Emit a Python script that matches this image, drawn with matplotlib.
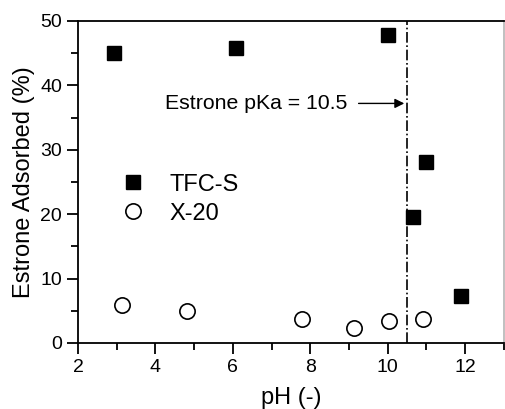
import matplotlib
matplotlib.use("Agg")
import matplotlib.pyplot as plt
from matplotlib.ticker import MultipleLocator

plt.rcParams['font.family'] = ['Liberation Sans', 'DejaVu Sans']

# data
tfc_ph = [2.93, 6.09, 10.02, 10.98, 10.66, 11.89]
tfc_ads = [45.0, 45.8, 47.9, 28.1, 19.6, 7.3]
x20_ph = [3.14, 4.82, 7.79, 9.13, 10.04, 10.91]
x20_ads = [5.9, 4.9, 3.8, 2.4, 3.4, 3.8]
pka = 10.5

fig = plt.figure(figsize=(5.05, 4.09), dpi=100)
ax = fig.add_axes([0.1545, 0.1614, 0.843, 0.7873])

ax.plot(tfc_ph, tfc_ads, 's', color='black', markersize=10, label='TFC-S')
ax.plot(x20_ph, x20_ads, 'o', markerfacecolor='white', markeredgecolor='black',
        markeredgewidth=1.2, markersize=11, label='X-20')

ax.axvline(pka, color='black', linestyle='-.', linewidth=1.2)
ax.annotate('Estrone pKa = 10.5', xy=(pka - 0.07, 37.2), xytext=(4.25, 37.2),
            fontsize=15.3, va='center',
            arrowprops=dict(arrowstyle='-|>', color='black', lw=1.0,
                            mutation_scale=14, shrinkA=6, shrinkB=0))

ax.set_xlim(2, 13)
ax.set_ylim(0, 50)
ax.xaxis.set_major_locator(MultipleLocator(2))
ax.xaxis.set_minor_locator(MultipleLocator(1))
ax.yaxis.set_major_locator(MultipleLocator(10))
ax.yaxis.set_minor_locator(MultipleLocator(5))
ax.tick_params(which='major', length=8, width=1.3, labelsize=14, direction='out')
ax.tick_params(which='minor', length=5, width=1.3, direction='out')
for s in ax.spines.values():
    s.set_linewidth(1.3)
ax.spines['right'].set_color('#bbbbbb')

ax.set_xlabel('pH (-)', fontsize=17, labelpad=8)
ax.set_ylabel('Estrone Adsorbed (%)', fontsize=17, labelpad=4)

ax.legend(loc='upper left', bbox_to_anchor=(0.024, 0.592), frameon=False,
          fontsize=17, handletextpad=0.55, labelspacing=0.3)

fig.savefig('out.png', dpi=100)
